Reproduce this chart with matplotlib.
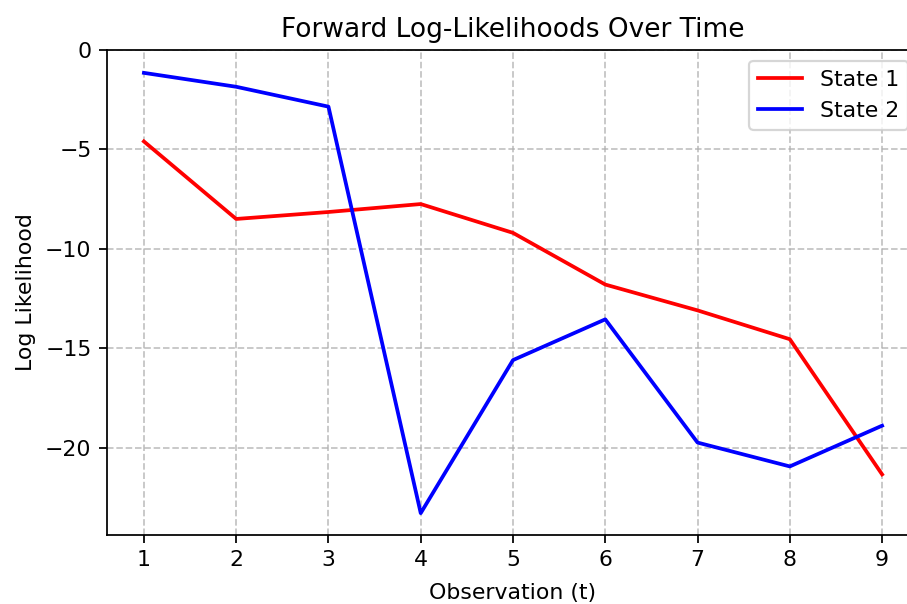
import matplotlib.pyplot as plt

# observaciones
t = [1, 2, 3, 4, 5, 6, 7, 8, 9]
state1 = [-4.6, -8.5, -8.15, -7.75, -9.2, -11.8, -13.1, -14.55, -21.35]
state2 = [-1.15, -1.85, -2.85, -23.3, -15.6, -13.55, -19.75, -20.95, -18.9]

dpi = 158.5
fig = plt.figure(figsize=(907/dpi, 604/dpi), dpi=dpi)
ax = fig.add_axes([107/907, 69/604, 812/907, 485/604])
ax.plot(t, state1, color='red', lw=1.7, label='State 1')
ax.plot(t, state2, color='blue', lw=1.7, label='State 2')
ax.set_ylim(-24.4, 0)
ax.set_xticks(t)
ax.set_title('Forward Log-Likelihoods Over Time')
ax.set_xlabel('Observation (t)', labelpad=5.5)
ax.set_ylabel('Log Likelihood')
ax.grid(True, linestyle='--', alpha=0.75)
ax.legend(loc='upper right')
fig.savefig('out.png', dpi=dpi)
